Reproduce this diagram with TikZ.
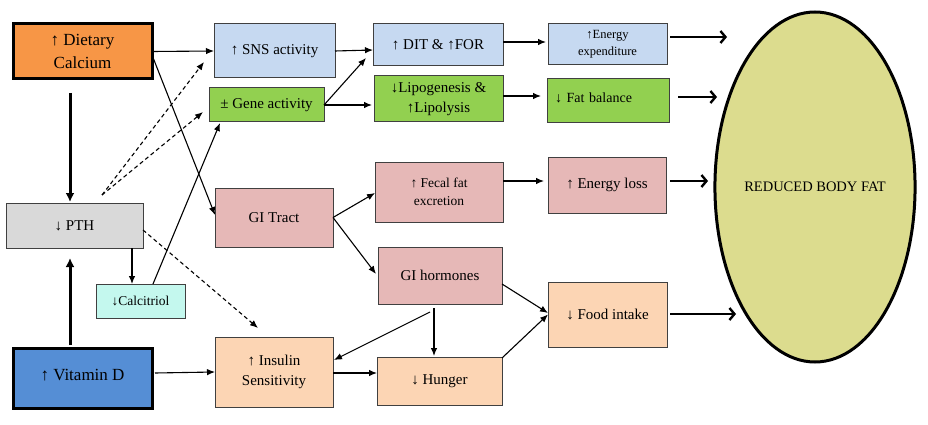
\documentclass[tikz,border=0pt]{standalone}
\usepackage{fontspec}
\setmainfont{Liberation Serif}
\usetikzlibrary{arrows.meta,calc,shapes.geometric}
\definecolor{corange}{HTML}{F79646}
\definecolor{cblue}{HTML}{C6D9F1}
\definecolor{cgreen}{HTML}{92D050}
\definecolor{cgray}{HTML}{D9D9D9}
\definecolor{cpink}{HTML}{E6B8B7}
\definecolor{ccyan}{HTML}{C4F8EE}
\definecolor{cdblue}{HTML}{558ED5}
\definecolor{cpeach}{HTML}{FCD5B4}
\definecolor{cell}{HTML}{DCDC8E}
\tikzset{
  box/.style={draw=black!75, line width=1pt, rectangle, outer sep=0pt, inner sep=2pt, align=center, text=black},
  thickbox/.style={draw=black, line width=3pt, rectangle, outer sep=0pt, inner sep=2pt, align=center},
  fA/.style={font=\fontsize{17}{22.5}\selectfont},
  fB/.style={font=\fontsize{15}{20}\selectfont},
  fC/.style={font=\fontsize{13.5}{18}\selectfont},
  fD/.style={font=\fontsize{12.5}{17}\selectfont},
  arr/.style={draw=black, line width=1.1pt, -{Latex[length=8pt,width=6.5pt]}},
  darr/.style={arr, dash pattern=on 4pt off 3pt},
  bigarr/.style={draw=black, line width=3pt, -{Latex[length=9pt,width=9pt]}},
  outarr/.style={draw=black, line width=2.6pt, -{Straight Barb[length=5pt,width=12pt,line width=2.4pt]}},
}
\begin{document}
\begin{tikzpicture}[x=1pt,y=-1pt]
\useasboundingbox (0,0) rectangle (928,425);
% nodes
\node[thickbox, fA, fill=corange, minimum width=139pt, minimum height=55pt] (cal) at (82.5,51.5) {↑ Dietary\\Calcium};
\node[box, fB, fill=cblue, minimum width=121pt, minimum height=54pt] (sns) at (274.5,51) {↑ SNS activity};
\node[box, fB, fill=cgreen, minimum width=115pt, minimum height=34pt] (gene) at (266.5,105) {± Gene activity};
\node[box, fB, fill=cblue, minimum width=130pt, minimum height=42pt] (dit) at (438,45) {↑ DIT \& ↑FOR};
\node[box, fD, fill=cblue, minimum width=119pt, minimum height=41pt] (ee) at (607.5,44.5) {↑Energy\\expenditure};
\node[box, fB, fill=cgreen, minimum width=129pt, minimum height=46pt] (lip) at (438.5,99) {↓Lipogenesis \&\\↑Lipolysis};
\node[box, font=\fontsize{14}{18}\selectfont, fill=cgreen, minimum width=122pt, minimum height=44pt, text width=106pt, align=left] (fat) at (608,101) {\raisebox{7pt}{↓ Fat balance}};
\node[box, fB, fill=cgray, minimum width=137pt, minimum height=45pt] (pth) at (74.5,225.5) {↓ PTH};
\node[box, fB, fill=cpink, minimum width=118pt, minimum height=59pt] (git) at (274,217.5) {GI Tract};
\node[box, fC, fill=cpink, minimum width=128pt, minimum height=60pt] (fecal) at (439,192) {↑ Fecal fat\\excretion};
\node[box, fB, fill=cpink, minimum width=118pt, minimum height=56pt] (eloss) at (607,185) {↑ Energy loss};
\node[box, fB, fill=cpink, minimum width=124pt, minimum height=57pt] (gih) at (440,275.5) {GI hormones};
\node[box, fC, fill=ccyan, minimum width=89pt, minimum height=34pt] (calc) at (140.5,301) {↓Calcitriol};
\node[thickbox, fA, fill=cdblue, minimum width=139pt, minimum height=60pt] (vitd) at (82.5,378) {\raisebox{6pt}{↑ Vitamin D}};
\node[box, fB, fill=cpeach, minimum width=118pt, minimum height=70pt] (ins) at (274,372) {↑ Insulin\\Sensitivity};
\node[box, fB, fill=cpeach, minimum width=125pt, minimum height=48pt] (hun) at (439.5,381) {↓ Hunger};
\node[box, fB, fill=cpeach, minimum width=119pt, minimum height=65pt] (food) at (607.5,314.5) {↓ Food intake};
\node[ellipse, draw=black, line width=3pt, fill=cell, minimum width=192pt, minimum height=350pt, inner sep=0pt, font=\fontsize{14.5}{18}\selectfont] (ell) at (815,187) {REDUCED BODY FAT};
% free ends
\coordinate (e1) at (727,37);
\coordinate (e2) at (717,97);
\coordinate (e3) at (708,181);
\coordinate (e4) at (736,314);
% connectors
\draw[arr] (cal.east) -- (sns.west);
\draw[arr] ($(cal.east)+(0,3.5)$) -- ($(git.west)+(0,-2.5)$);
\draw[bigarr] ($(cal.south)+(-12.5,14)$) -- ($(pth.north)+(-4.5,-1)$);
\draw[bigarr] ($(vitd.north)+(-12.5,-3)$) -- ($(pth.south)+(-4.5,10)$);
\draw[darr] ($(pth.north)+(27.5,-8)$) -- ($(sns.west)+(-10,11)$);
\draw[darr] ($(pth.north)+(27.5,-8)$) -- ($(gene.west)+(-6,7)$);
\draw[arr] ($(pth.south)+(57.5,0)$) -- ($(calc.north)+(-8.5,0)$);
\draw[arr] ($(calc.north)+(12.5,0)$) -- ($(gene.south)+(-46.5,1)$);
\draw[darr] ($(pth.east)+(0,4.5)$) -- ($(ins.north)+(-16,-9)$);
\draw[arr] ($(vitd.east)+(3,-5)$) -- (ins.west);
\draw[arr] (sns.east) -- ($(dit.west)+(0,5)$);
\draw[arr] (gene.east) -- ($(dit.south west)+(-7,-8)$);
\draw[arr] (gene.east) -- ($(lip.west)+(-2,6)$);
\draw[arr] ($(dit.east)+(0,-3)$) -- ($(ee.west)+(-2,-2.5)$);
\draw[arr] ($(lip.east)+(0,-3)$) -- ($(fat.west)+(-6,-5)$);
\draw[outarr] ($(ee.east)+(3,-7.5)$) -- (e1);
\draw[outarr] ($(fat.east)+(9,-4)$) -- (e2);
\draw[outarr] ($(eloss.east)+(4,-4)$) -- (e3);
\draw[outarr] ($(food.east)+(3,-0.5)$) -- (e4);
\draw[arr] (git.east) -- ($(fecal.west)+(0,1)$);
\draw[arr] (git.east) -- ($(gih.west)+(-2,-1.5)$);
\draw[arr] ($(fecal.east)+(0,-11)$) -- ($(eloss.west)+(-4,-4)$);
\draw[arr] ($(gih.east)+(0,8.5)$) -- ($(food.west)+(0,-1.5)$);
\draw[arr] ($(hun.north east)+(0,1)$) -- (food.west);
\draw[arr] ($(gih.south)+(-6,4)$) -- ($(hun.north)+(-5.5,-1)$);
\draw[arr] ($(gih.south)+(-10,8)$) -- ($(ins.east)+(1,-12)$);
\draw[arr] ($(ins.east)+(0,1)$) -- ($(hun.west)+(0,-8)$);
\end{tikzpicture}
\end{document}
